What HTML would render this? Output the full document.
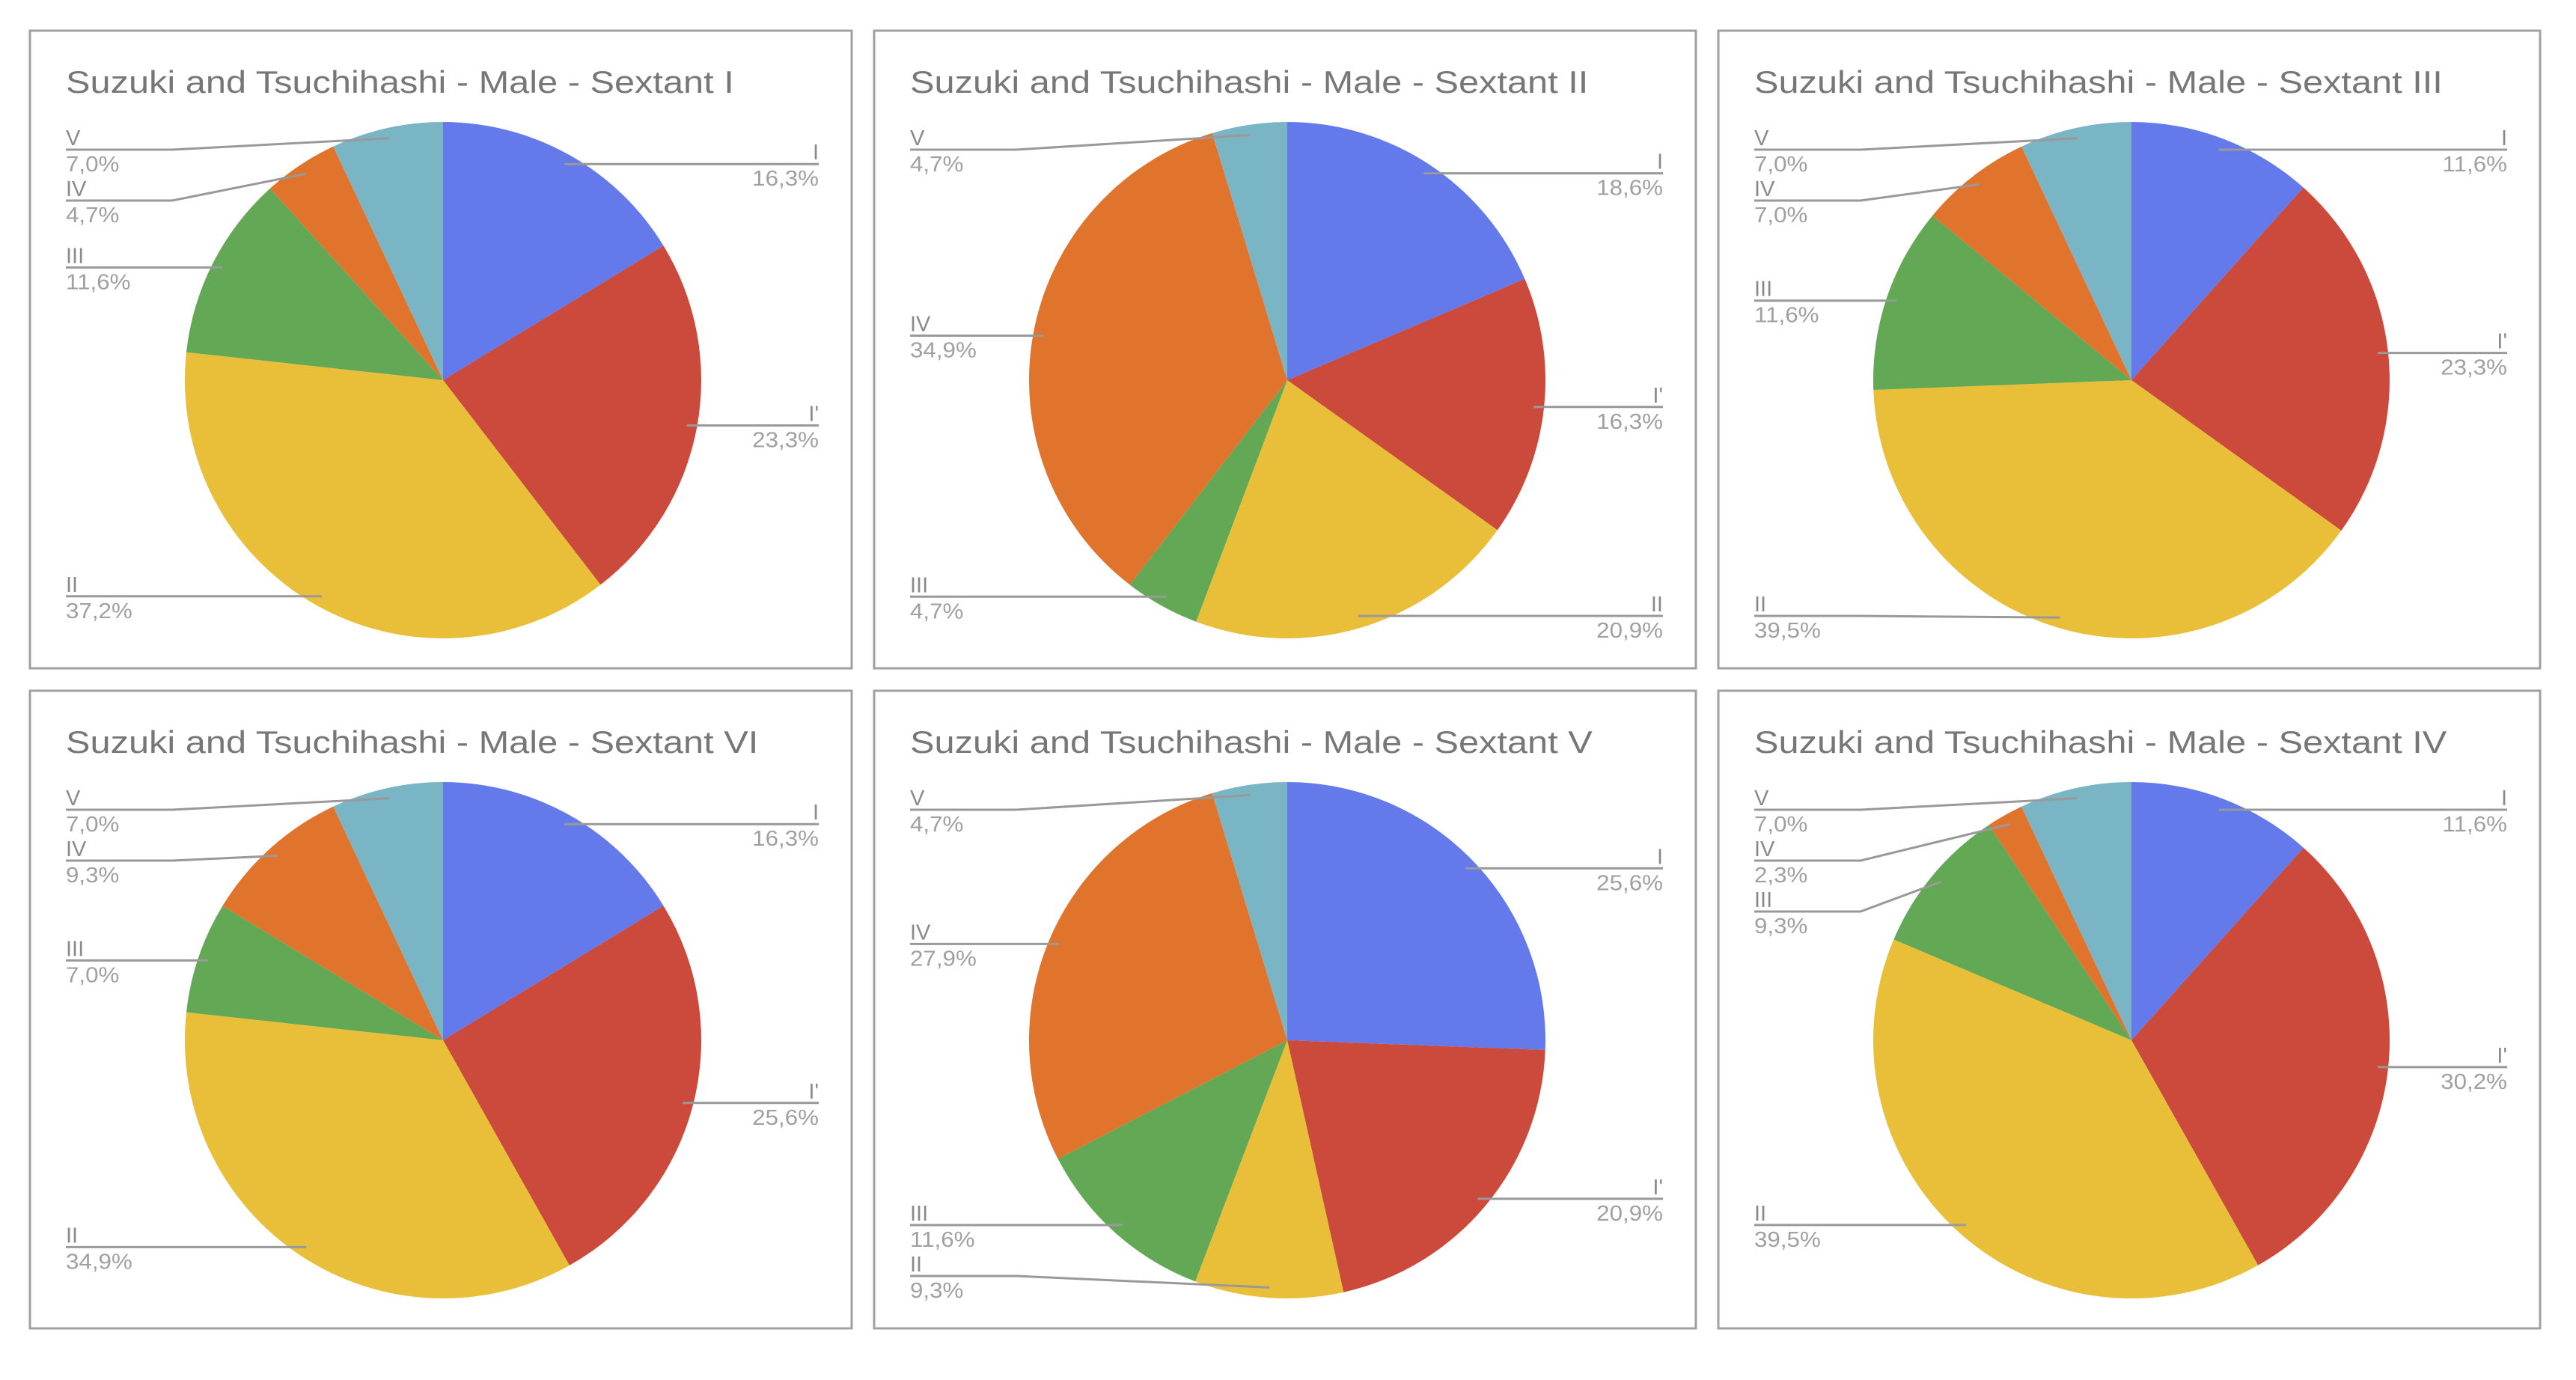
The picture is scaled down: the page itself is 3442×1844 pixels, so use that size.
<!DOCTYPE html>
<html><head><meta charset="utf-8"><style>
html,body{margin:0;padding:0;background:#fff;}
svg{display:block;}
text{font-family:"Liberation Sans",Arial,sans-serif;}
</style></head><body>
<svg id="root" width="3442" height="1844" viewBox="0 0 3442 1844"></svg>
<script>
const categories = ["I","I'","II","III","IV","V"];
const titles = ["Suzuki and Tsuchihashi - Male - Sextant I","Suzuki and Tsuchihashi - Male - Sextant II","Suzuki and Tsuchihashi - Male - Sextant III","Suzuki and Tsuchihashi - Male - Sextant VI","Suzuki and Tsuchihashi - Male - Sextant V","Suzuki and Tsuchihashi - Male - Sextant IV"];
const sextantI   = [16.3,23.3,37.2,11.6,4.7,7.0];
const sextantII  = [18.6,16.3,20.9,4.7,34.9,4.7];
const sextantIII = [11.6,23.3,39.5,11.6,7.0,7.0];
const sextantVI  = [16.3,25.6,34.9,7.0,9.3,7.0];
const sextantV   = [25.6,20.9,9.3,11.6,27.9,4.7];
const sextantIV  = [11.6,30.2,39.5,9.3,2.3,7.0];
const seriesList = [sextantI,sextantII,sextantIII,sextantVI,sextantV,sextantIV];

const colors = ["#6479ea","#cc4a3b","#e9bf3a","#62a855","#e0742c","#7ab5c5"];
const NS="http://www.w3.org/2000/svg";
const root=document.getElementById('root');
const panelX=[40,1168,2296], panelY=[41,923], PW=1098, PH=852;
const CX=552, CY=467, R=345;
function mk(tag,attrs,parent){const e=document.createElementNS(NS,tag);for(const k in attrs)e.setAttribute(k,attrs[k]);parent.appendChild(e);return e;}
function fmt(v){return v.toFixed(1).replace('.',',')+'%';}
function widen(t,f){const w=t.getComputedTextLength();t.setAttribute('textLength',w*f);t.setAttribute('lengthAdjust','spacingAndGlyphs');}

seriesList.forEach((vals,pi)=>{
  const g=mk('g',{transform:`translate(${panelX[pi%3]},${panelY[Math.floor(pi/3)]})`},root);
  
  
  const bg=mk('rect',{x:0,y:0,width:PW,height:PH,fill:'#fff',stroke:'#a0a0a0','stroke-width':3},g);
  
  
  const t=mk('text',{x:48,y:83,'font-size':42,fill:'#777'},g);t.textContent=titles[pi];
  
  
  widen(t,1.16);
  const total=vals.reduce((a,b)=>a+b,0);
  let cum=0;
  const labels=[];
  vals.forEach((v,i)=>{
    const a0=cum/total*2*Math.PI, a1=(cum+v)/total*2*Math.PI, am=(a0+a1)/2;
    const p=(a)=>[CX+R*Math.sin(a),CY-R*Math.cos(a)];
    const s=p(a0),e=p(a1);const large=(a1-a0)>Math.PI?1:0;
    const path=mk('path',{d:`M${CX},${CY}L${s[0]},${s[1]}A${R},${R} 0 ${large} 1 ${e[0]},${e[1]}Z`,fill:colors[i]},g);
    
    
    const ax=CX+R*0.96*Math.sin(am), ay=CY-R*0.96*Math.cos(am);
    labels.push({i,v,ax,ay,y:ay,right:(cum+v/2)/total<0.5});
    cum+=v;
  });
  [true,false].forEach(side=>{
    const L=labels.filter(l=>l.right===side).sort((a,b)=>a.ay-b.ay);
    const gap=68, top=159, bot=782;
    for(let k=0;k<L.length;k++){L[k].y=Math.max(L[k].ay,top,k?L[k-1].y+gap:top);}
    for(let k=L.length-1;k>=0;k--){L[k].y=Math.min(L[k].y,bot,k<L.length-1?L[k+1].y-gap:bot);}
  });
  labels.forEach(l=>{
    let pts;
    if(l.right){
      const ex=Math.abs(l.y-l.ay)<2?l.ax:Math.min(l.ax+120,900);
      pts=`${l.ax},${l.ay} ${ex},${l.y} 1054,${l.y}`;
    }else{
      const ex=Math.abs(l.y-l.ay)<2?l.ax:190;
      pts=`${l.ax},${l.ay} ${ex},${l.y} 48,${l.y}`;
    }
    const ln=mk('polyline',{points:pts,fill:'none',stroke:'#999','stroke-width':3},g);
    
    
    const x=l.right?1054:48, anchor=l.right?'end':'start';
    const n=mk('text',{x:x,y:l.y-6,'font-size':29,fill:'#8a8a8a','text-anchor':anchor},g);n.textContent=categories[l.i];
    
    
    const pc=mk('text',{x:x,y:l.y+29,'font-size':29,fill:'#a0a0a0','text-anchor':anchor},g);pc.textContent=fmt(l.v);
    
    
    widen(pc,1.08);
  });
});
</script>
</body></html>
